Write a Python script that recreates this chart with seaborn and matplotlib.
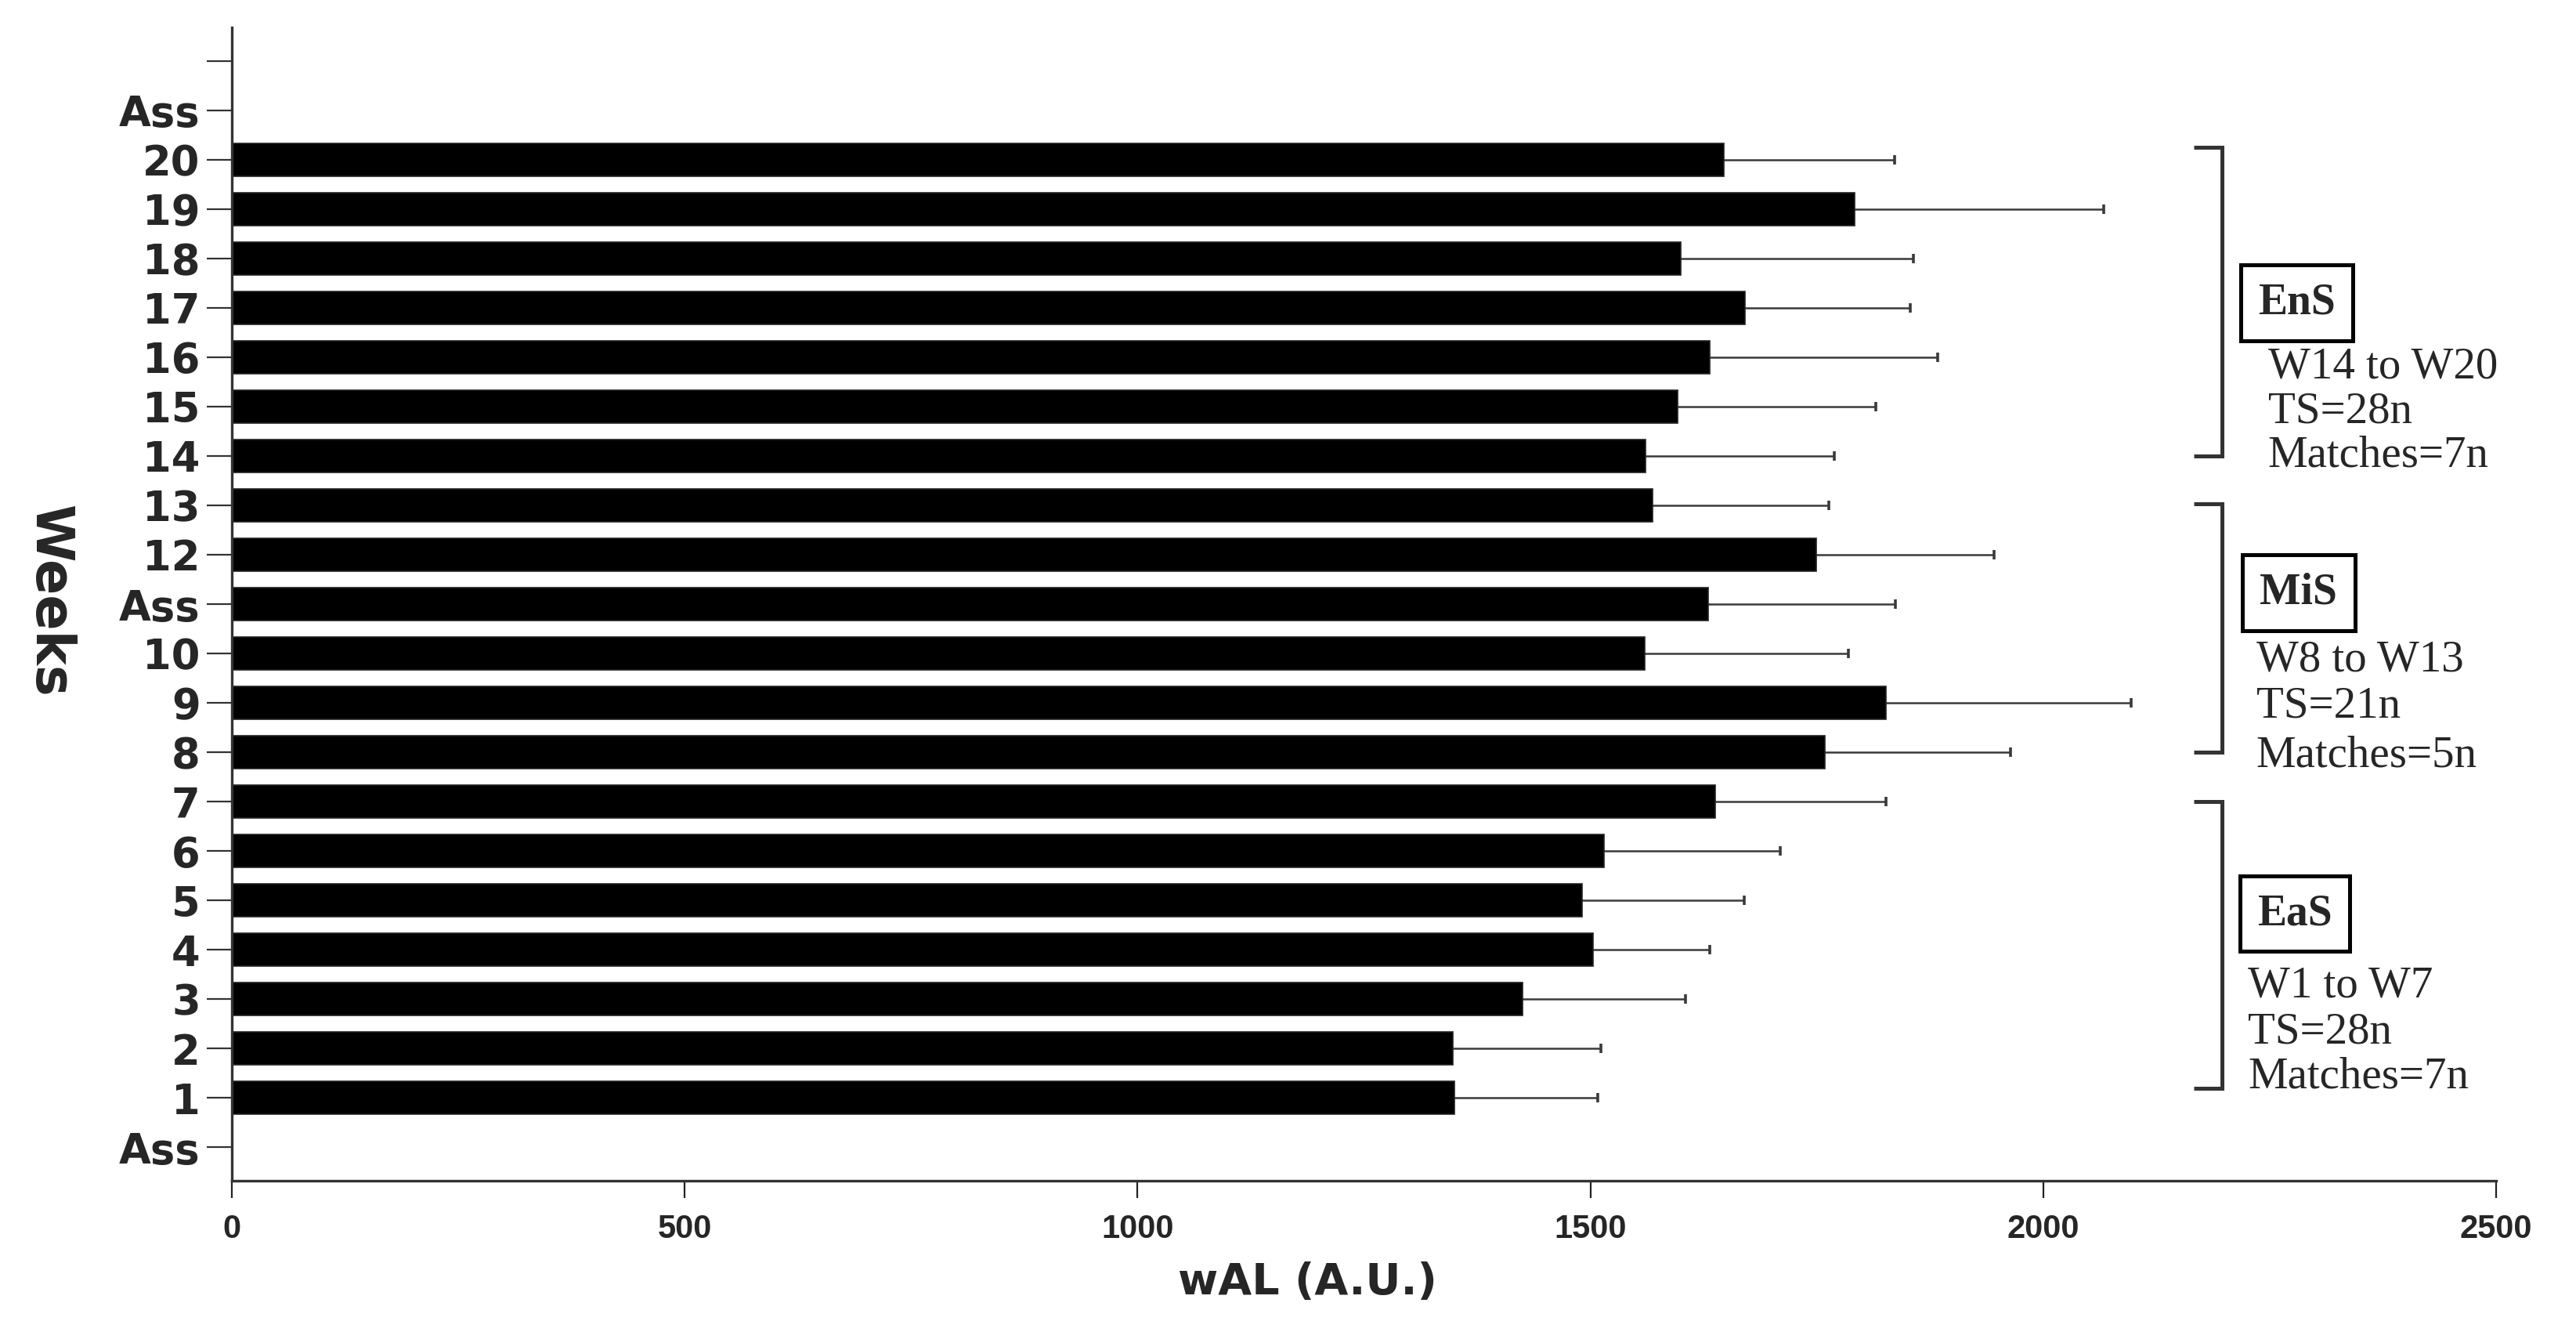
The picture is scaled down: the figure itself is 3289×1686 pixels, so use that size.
import numpy as np
import pandas as pd
import matplotlib
matplotlib.use("Agg")
import matplotlib.pyplot as plt
import seaborn as sns

# ---------------- data ----------------
# category slots from top to bottom (unique keys) and their displayed labels
slot_keys = ["top", "ass_top", "20", "19", "18", "17", "16", "15", "14", "13", "12",
             "11", "10", "9", "8", "7", "6", "5", "4", "3", "2", "1", "ass_bot"]
slot_labels = ["", "Ass", "20", "19", "18", "17", "16", "15", "14", "13", "12",
               "Ass", "10", "9", "8", "7", "6", "5", "4", "3", "2", "1", "Ass"]

weeks = ["20", "19", "18", "17", "16", "15", "14", "13", "12", "11",
         "10", "9", "8", "7", "6", "5", "4", "3", "2", "1"]
wal_mean = [1647, 1792, 1600, 1671, 1632, 1596, 1561, 1569, 1749, 1630,
            1560, 1826, 1759, 1638, 1515, 1491, 1503, 1425, 1348, 1350]
wal_sd = [189, 275, 257, 182, 251, 219, 208, 194, 197, 207,
          225, 271, 205, 188, 195, 179, 129, 180, 164, 158]

x_ticks = [0, 500, 1000, 1500, 2000, 2500]

groups = [
    # name, first week, last week, lines
    ("EnS", "20", "14", ["W14 to W20", "TS=28n", "Matches=7n"]),
    ("MiS", "13", "8", ["W8 to W13", "TS=21n", "Matches=5n"]),
    ("EaS", "7", "1", ["W1 to W7", "TS=28n", "Matches=7n"]),
]

df = pd.DataFrame({"week": weeks, "wal": wal_mean, "sd": wal_sd})

# ---------------- figure ----------------
sns.set_style("ticks")
plt.rcParams["font.family"] = ["DejaVu Sans"]

W, H = 3289, 1686
fig = plt.figure(figsize=(W / 100, H / 100), dpi=100)
ax = fig.add_axes([296 / W, 1 - 1507 / H, (3187 - 296) / W, (1507 - 35) / H])

sns.barplot(data=df, x="wal", y="week", order=slot_keys, orient="h",
            color="black", saturation=1, width=0.66, errorbar=None,
            edgecolor="#222222", linewidth=1.2, ax=ax, zorder=2)

# positions of categories from the axis
ypos = {lab.get_text(): t for lab, t in zip(ax.get_yticklabels(), ax.get_yticks())}
yvals = [ypos[w] for w in df["week"]]

ax.errorbar(df["wal"], yvals, xerr=df["sd"], fmt="none", ecolor="#3a3a3a",
            elinewidth=1.8, capsize=4.5, capthick=2.6, zorder=1)

ax.set_xlim(0, 2500)
ax.set_ylim(len(slot_keys) - 1 + 0.68, -0.68)
ax.set_xticks(x_ticks)
ax.set_xticklabels([str(v) for v in x_ticks], fontfamily="Liberation Sans",
                   fontweight="bold", fontsize=30)
ax.set_yticks([ypos[k] for k in slot_keys])
ax.set_yticklabels(slot_labels, fontfamily="DejaVu Sans", fontweight="heavy",
                   fontsize=38)

ax.tick_params(axis="y", length=23, width=1.6, color="#333333", pad=6)
ax.tick_params(axis="x", length=16, width=1.6, color="#222222", pad=14)

for s in ["top", "right"]:
    ax.spines[s].set_visible(False)
for s in ["left", "bottom"]:
    ax.spines[s].set_color("#333333")
    ax.spines[s].set_linewidth(2.4)

ax.set_xlabel("wAL (A.U.)", fontfamily="DejaVu Sans", fontweight="bold",
              fontsize=40)
ax.xaxis.set_label_coords(0.475, -0.088)
ax.xaxis.label.set_va("center")
ax.set_ylabel("Weeks", fontfamily="DejaVu Sans", fontweight="bold",
              fontsize=48, rotation=270)
ax.yaxis.set_label_coords(-0.0806, 0.503)
ax.yaxis.label.set_va("center")
ax.yaxis.label.set_ha("center")

# ---------------- group brackets & annotations ----------------
arm_x0, arm_x1 = 2166, 2197
offsets = [(-0.25, 0.0), (-0.03, 0.0), (0.0, -0.2)]
box_x = [2280, 2282, 2278]
box_dy = [-3.1, -3.23, -3.73]      # relative to last week's slot
text_x = [2248, 2235, 2226]
line_dy = [[-1.8, -0.9, 0.0], [-1.87, -0.93, 0.07], [-2.27, -1.33, -0.43]]

for gi, (name, first, last, lines) in enumerate(groups):
    y0 = ypos[first] + offsets[gi][0]
    y1 = ypos[last] + offsets[gi][1]
    ax.plot([arm_x0, arm_x1, arm_x1, arm_x0], [y0, y0, y1, y1],
            color="#333333", lw=3.6, clip_on=False, solid_joinstyle="miter",
            solid_capstyle="butt")
    ax.text(box_x[gi], ypos[last] + box_dy[gi], name, fontfamily="Liberation Serif",
            fontweight="bold", fontsize=40, ha="center", va="center",
            clip_on=False,
            bbox=dict(boxstyle="square,pad=0.4", fc="white", ec="black", lw=3.6))
    for li, txt in enumerate(lines):
        ax.text(text_x[gi], ypos[last] + line_dy[gi][li], txt,
                fontfamily="Liberation Serif", fontsize=41, ha="left",
                va="center", clip_on=False)

fig.savefig("out.png", dpi=100, facecolor="white")
